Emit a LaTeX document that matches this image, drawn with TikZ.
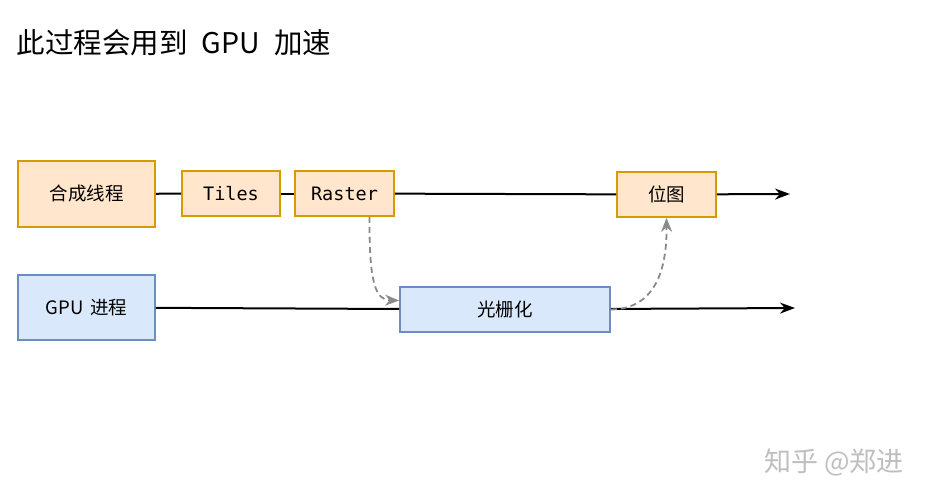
\documentclass[tikz,border=0pt]{standalone}
\usepackage{fontspec}
\setmainfont{Noto Sans CJK SC}
\setmonofont{DejaVu Sans Mono}
\usepackage{tikz}
\usepackage{xcolor}
\usetikzlibrary{positioning,arrows.meta}

\definecolor{orfill}{HTML}{FFE6CC}
\definecolor{ordraw}{HTML}{D79B00}
\definecolor{blfill}{HTML}{DAE8FC}
\definecolor{bldraw}{HTML}{6C8EBF}
\definecolor{dgray}{HTML}{8A8A8A}

\begin{document}
\begin{tikzpicture}[x=1pt,y=-1pt,>={Stealth[length=15pt,width=11pt]},
  orbox/.style={draw=ordraw,fill=orfill,line width=1.8pt,inner sep=0pt,font=\fontsize{18.5}{22}\selectfont},
  blbox/.style={draw=bldraw,fill=blfill,line width=1.8pt,inner sep=0pt,font=\fontsize{18.5}{22}\selectfont},
  flow/.style={line width=2pt},
  hop/.style={draw=dgray,line width=1.8pt,dash pattern=on 6pt off 4pt,-{Stealth[length=14pt,width=11pt,fill=dgray]}}]

\fill[white] (0,0) rectangle (932,500);
\useasboundingbox (0,0) rectangle (932,500);

\node[anchor=west,font=\fontsize{28.5}{32}\selectfont] (title) at (13,43) {此过程会用到\hspace{0.5em}GPU\hspace{0.5em}加速};

\node[orbox, minimum width=137pt, minimum height=66pt] (syn) at (86.5,194) {合成线程};
\node[orbox, minimum width=98pt, minimum height=45pt] (tiles) at (231,193.5) {\texttt{Tiles}};
\node[orbox, minimum width=99pt, minimum height=45pt] (raster) at (344.5,193.5) {\texttt{Raster}};
\node[orbox, minimum width=99pt, minimum height=45pt] (bmp) at (666.5,194.5) {位图};
\coordinate (end1) at (790,194);

\node[blbox, minimum width=137pt, minimum height=65pt] (gpu) at (86.5,307.5) {GPU\hspace{0.35em}进程};
\node[blbox, minimum width=210pt, minimum height=45pt] (rast) at (505,309.5) {光栅化};
\coordinate (end2) at (795,308);

\draw[flow] (syn) -- (tiles);
\draw[flow] (tiles) -- (raster);
\draw[flow] (raster) -- (bmp);
\draw[flow,->] (bmp) -- (end1);

\draw[flow] (gpu) -- (rast);
\draw[flow,->] (rast) -- (end2);

\draw[hop] ([xshift=25pt]raster.south) .. controls (369,285) and (376,300) .. ([yshift=9pt]rast.west);
\draw[hop] (rast.east) .. controls (655,309) and (667,270) .. (bmp.south);

\node[text=black!25,font=\fontsize{27}{30}\selectfont] (mark) at (834,462) {知乎 @郑进};

\end{tikzpicture}
\end{document}
